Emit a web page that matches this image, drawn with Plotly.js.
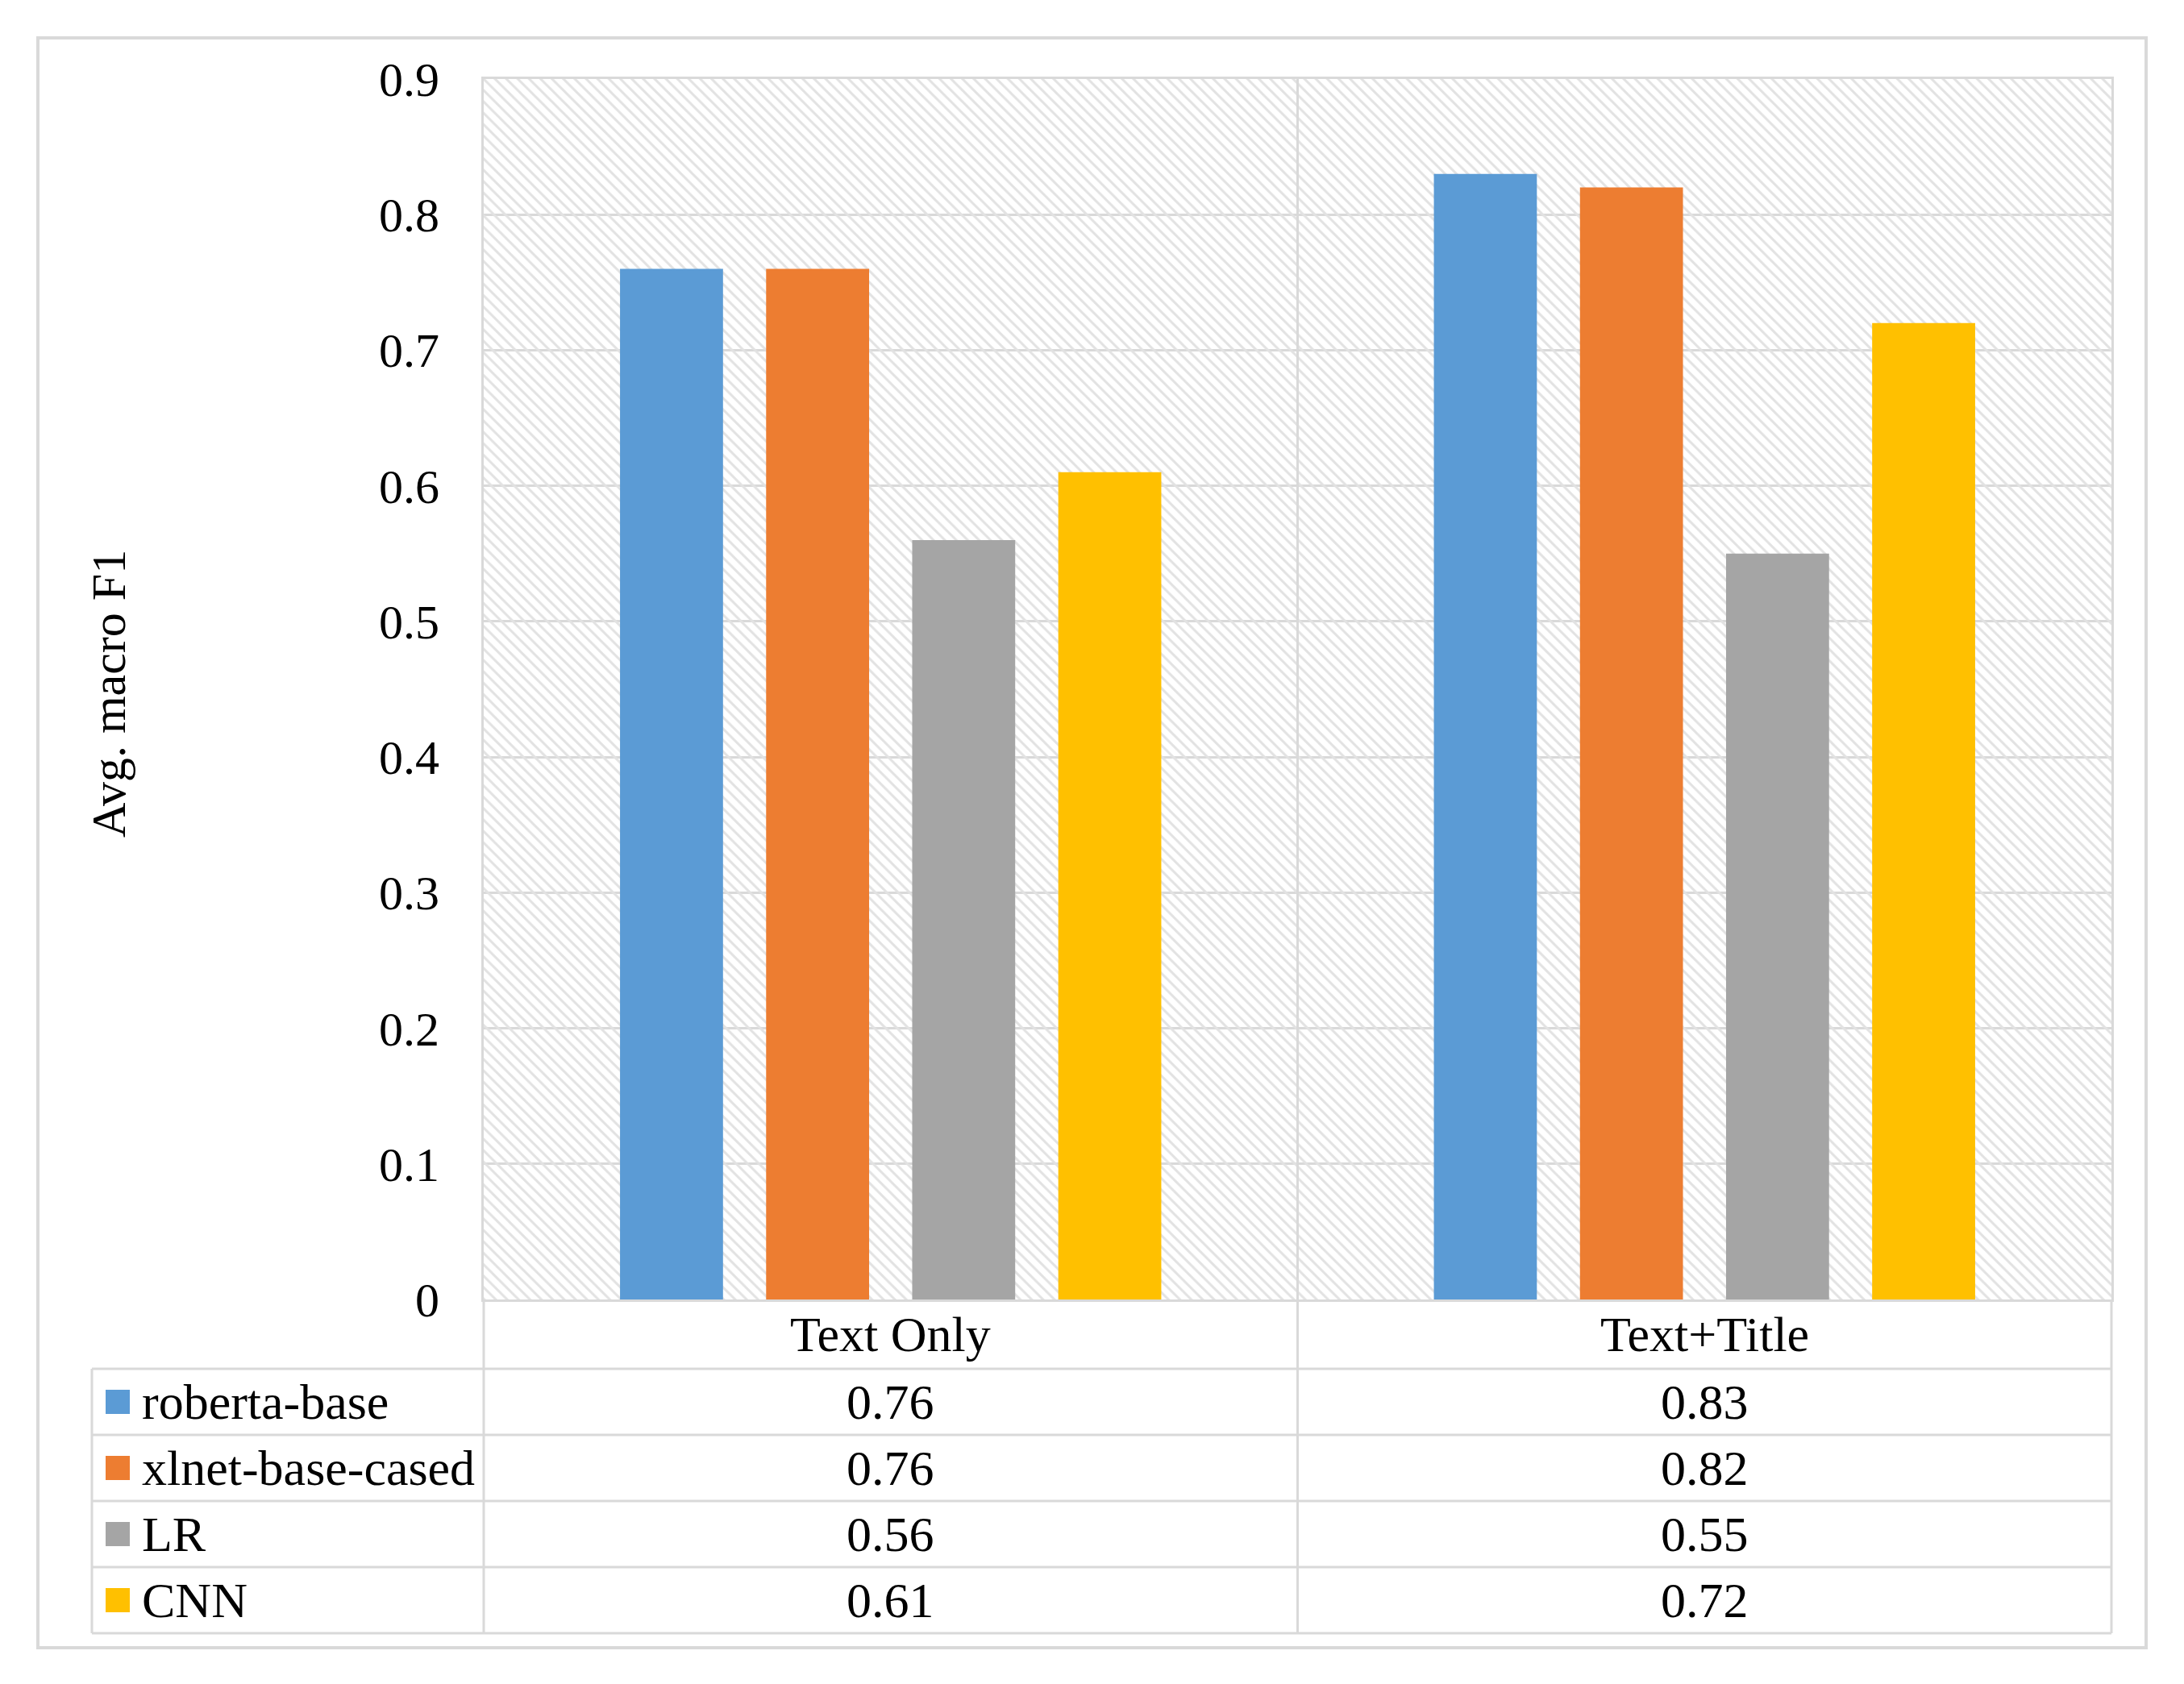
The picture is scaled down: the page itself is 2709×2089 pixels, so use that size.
<!DOCTYPE html>
<html>
<head>
<meta charset="utf-8">
<script src="https://cdn.plot.ly/plotly-3.0.1.min.js"></script>
<style>
  html, body { margin: 0; padding: 0; background: #ffffff; }
  #chart { width: 2709px; height: 2089px; }
</style>
</head>
<body>
<div id="chart"></div>
<script>
// ---------------- data ----------------
const categories = ['Text Only', 'Text+Title'];
const seriesNames = ['roberta-base', 'xlnet-base-cased', 'LR', 'CNN'];
const robertaBase = [0.76, 0.83];
const xlnetBaseCased = [0.76, 0.82];
const lrValues = [0.56, 0.55];
const cnnValues = [0.61, 0.72];
const yTickVals = [0, 0.1, 0.2, 0.3, 0.4, 0.5, 0.6, 0.7, 0.8, 0.9];
const yTickText = ['0', '0.1', '0.2', '0.3', '0.4', '0.5', '0.6', '0.7', '0.8', '0.9'];
const yTitle = 'Avg. macro F1';

const seriesValues = [robertaBase, xlnetBaseCased, lrValues, cnnValues];
const seriesColors = ['#5B9BD5', '#ED7D31', '#A5A5A5', '#FFC000'];

// ---------------- geometry (pixels) ----------------
const FIG_W = 2709, FIG_H = 2089;
const PL = 600, PR = 2619, PT = 98, PB = 1612;
const PW = PR - PL, PH = PB - PT;
const px = x => (x - PL) / PW;
const py = y => (PB - y) / PH;

const GRID = '#d9d9d9';
const LW = 3;
const FONT = { family: 'Liberation Serif, Times New Roman, serif', size: 60, color: '#000000' };
const TFONT = { family: 'Liberation Serif, Times New Roman, serif', size: 62, color: '#000000' };

const tableLeft = 114;
const headerH = 86;
const rowH = 82;
const headerBottom = PB + headerH;
const tableBottom = headerBottom + rowH * seriesNames.length;

// ---------------- traces ----------------
const traces = [];
// hatched plot background
traces.push({
  type: 'bar',
  x: [0.5], y: [yTickVals[yTickVals.length - 1]], width: [1], base: [0],
  xaxis: 'x', yaxis: 'y',
  marker: {
    color: 'rgba(0,0,0,0)',
    line: { width: 0 },
    pattern: { shape: '\\', fgcolor: '#e2e2e2', bgcolor: 'rgba(0,0,0,0)', size: 10, solidity: 0.3 }
  },
  hoverinfo: 'skip', showlegend: false
});
seriesNames.forEach((name, i) => {
  traces.push({
    type: 'bar',
    name: name,
    x: categories,
    y: seriesValues[i],
    xaxis: 'x2', yaxis: 'y2',
    marker: { color: seriesColors[i], line: { width: 0 } },
    showlegend: false,
    hoverinfo: 'x+y+name'
  });
});

// ---------------- shapes & annotations (table) ----------------
const shapes = [];
const annotations = [];
const line = (x0, y0, x1, y1) => ({
  type: 'line', xref: 'paper', yref: 'paper',
  x0: px(x0), y0: py(y0), x1: px(x1), y1: py(y1),
  line: { color: GRID, width: LW }, layer: 'above'
});

// outer chart border
shapes.push({
  type: 'rect', xref: 'paper', yref: 'paper',
  x0: px(47), x1: px(2662), y0: py(47), y1: py(2044),
  line: { color: GRID, width: 4 }, fillcolor: 'rgba(0,0,0,0)', layer: 'below'
});

// category column boundaries
const n = categories.length;
const colX = [];
for (let i = 0; i <= n; i++) colX.push(PL + PW * i / n);

// vertical lines
colX.forEach((x, i) => {
  const top = (i === 0 || i === n) ? PB : PT;
  shapes.push(line(x, top, x, tableBottom));
});
shapes.push(line(tableLeft, headerBottom, tableLeft, tableBottom));
// horizontal lines
for (let r = 0; r <= seriesNames.length; r++) {
  const y = headerBottom + r * rowH;
  shapes.push(line(tableLeft, y, PR, y));
}

// header labels
categories.forEach((c, j) => {
  annotations.push({
    xref: 'paper', yref: 'paper',
    x: px((colX[j] + colX[j + 1]) / 2), y: py(PB + headerH / 2),
    text: c, showarrow: false, xanchor: 'center', yanchor: 'middle', font: TFONT
  });
});

// rows
seriesNames.forEach((name, i) => {
  const yc = headerBottom + i * rowH + rowH / 2;
  shapes.push({
    type: 'rect', xref: 'paper', yref: 'paper',
    x0: px(131), x1: px(161), y0: py(yc - 15), y1: py(yc + 15),
    fillcolor: seriesColors[i], line: { width: 0 }, layer: 'above'
  });
  annotations.push({
    xref: 'paper', yref: 'paper', x: px(174), y: py(yc),
    text: name, showarrow: false, xanchor: 'left', yanchor: 'middle', font: TFONT
  });
  categories.forEach((c, j) => {
    annotations.push({
      xref: 'paper', yref: 'paper',
      x: px((colX[j] + colX[j + 1]) / 2), y: py(yc),
      text: seriesValues[i][j].toFixed(2), showarrow: false,
      xanchor: 'center', yanchor: 'middle', font: TFONT
    });
  });
});

// y-axis title
annotations.push({
  xref: 'paper', yref: 'paper', x: px(135), y: py(861),
  text: yTitle, textangle: -90, showarrow: false,
  xanchor: 'center', yanchor: 'middle', font: FONT
});

const yMax = yTickVals[yTickVals.length - 1];

const layout = {
  width: FIG_W, height: FIG_H,
  margin: { l: PL, r: FIG_W - PR, t: PT, b: FIG_H - PB, pad: 0 },
  paper_bgcolor: '#ffffff', plot_bgcolor: '#ffffff',
  font: FONT,
  barmode: 'group', bargap: 0.282, bargroupgap: 0.295,
  showlegend: false,
  xaxis: {
    type: 'linear', range: [0, 1], fixedrange: true,
    showticklabels: false, ticks: '', showgrid: false, zeroline: false,
    showline: true, mirror: true, linecolor: GRID, linewidth: LW
  },
  yaxis: {
    range: [0, yMax], fixedrange: true,
    tickmode: 'array', tickvals: yTickVals, ticktext: yTickText,
    ticks: '', ticklabelstandoff: 40,
    tickfont: FONT,
    showgrid: true, gridcolor: GRID, gridwidth: LW, zeroline: false,
    showline: true, mirror: true, linecolor: GRID, linewidth: LW
  },
  xaxis2: {
    type: 'category', overlaying: 'x', range: [-0.5, n - 0.5], fixedrange: true,
    showticklabels: false, ticks: '', showgrid: false, zeroline: false, showline: false
  },
  yaxis2: {
    overlaying: 'y', range: [0, yMax], fixedrange: true,
    showticklabels: false, ticks: '', showgrid: false, zeroline: false, showline: false
  },
  shapes: shapes,
  annotations: annotations
};

Plotly.newPlot('chart', traces, layout, { displayModeBar: false, responsive: false });
</script>
</body>
</html>
